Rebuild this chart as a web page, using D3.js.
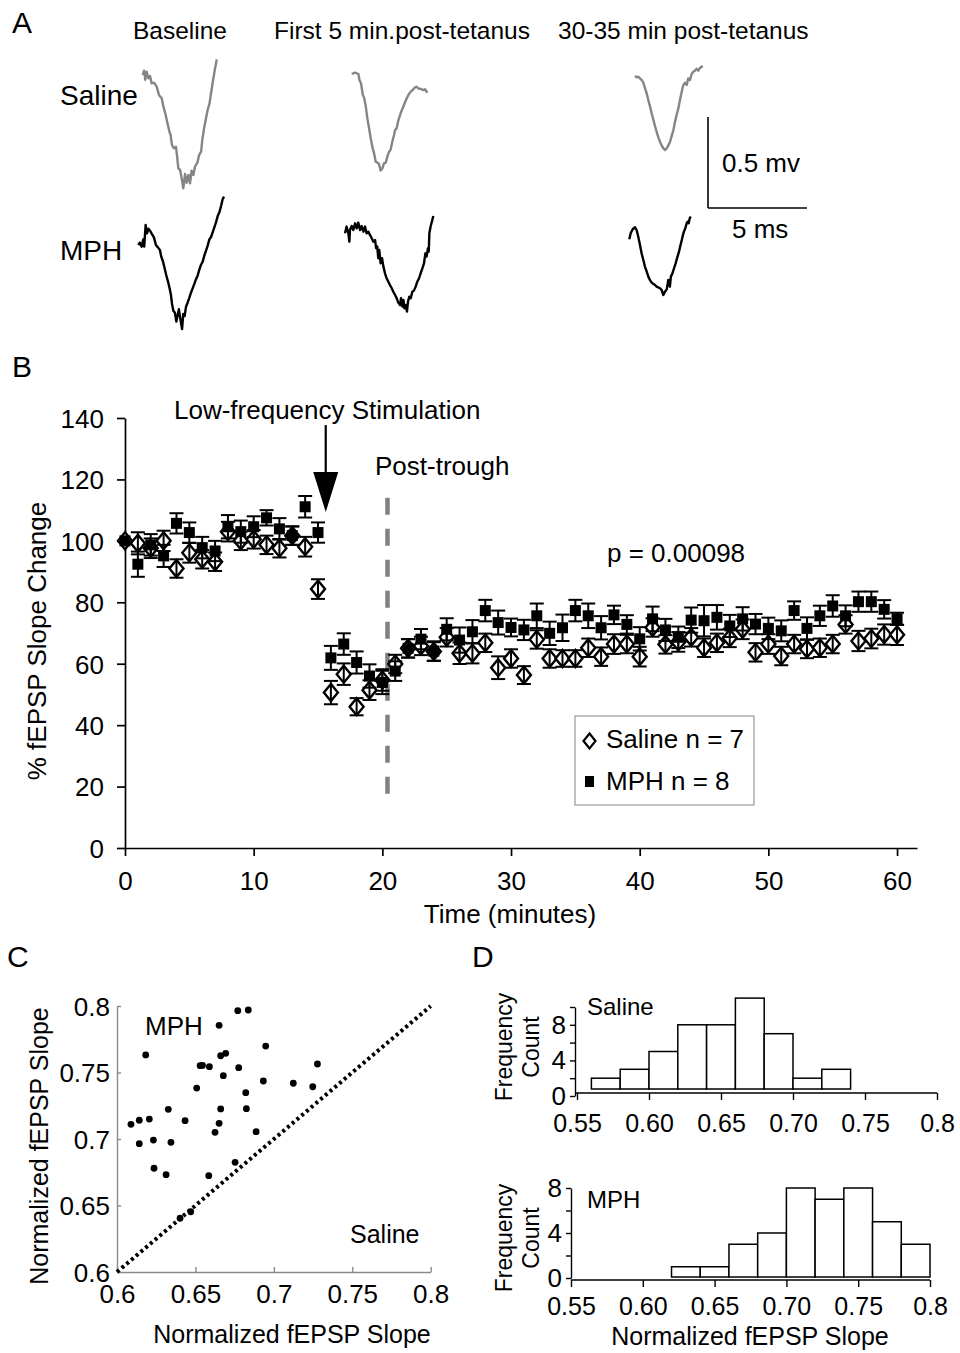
<!DOCTYPE html>
<html><head><meta charset="utf-8">
<script src="https://cdn.jsdelivr.net/npm/d3@7"></script>
<style>
body{margin:0;background:#fff}
svg{display:block}
text{font-family:"Liberation Sans",Arial,Helvetica,sans-serif;fill:#000}
</style>
</head><body>
<svg id="fig" width="960" height="1353"></svg>
<script>
// ---------------- DATA ----------------
// Panel A traces: [time (ms), voltage (mV)] relative to trace start
const salineBaseline = [[0,0],[.07,.024],[.13,-.027],[.20,.018],[.29,-.018],[.37,-.005],[.45,-.046],[.57,-.042],[.71,-.064],[.82,-.11],[.96,-.128],[1.04,-.17],[1.16,-.22],[1.26,-.269],[1.35,-.311],[1.41,-.33],[1.48,-.385],[1.58,-.403],[1.68,-.394],[1.73,-.44],[1.80,-.513],[1.89,-.522],[1.97,-.568],[2.05,-.623],[2.14,-.544],[2.22,-.592],[2.31,-.549],[2.39,-.595],[2.47,-.526],[2.56,-.549],[2.64,-.504],[2.76,-.482],[2.85,-.44],[2.95,-.421],[3.01,-.357],[3.10,-.293],[3.18,-.247],[3.28,-.192],[3.37,-.159],[3.45,-.101],[3.54,-.037],[3.64,.027],[3.74,.086]];
const salineFirst5 = [[0,0],[.17,.007],[.34,0],[.39,-.033],[.47,-.051],[.56,-.115],[.62,-.128],[.71,-.176],[.79,-.244],[.88,-.299],[.96,-.353],[1.04,-.399],[1.13,-.436],[1.21,-.482],[1.30,-.487],[1.38,-.495],[1.46,-.531],[1.55,-.518],[1.63,-.491],[1.72,-.487],[1.80,-.454],[1.89,-.427],[1.97,-.414],[2.05,-.372],[2.14,-.335],[2.19,-.308],[2.27,-.299],[2.36,-.253],[2.47,-.216],[2.61,-.179],[2.74,-.143],[2.86,-.115],[2.98,-.097],[3.08,-.088],[3.20,-.073],[3.28,-.070],[3.38,-.081],[3.48,-.081],[3.59,-.088],[3.70,-.084],[3.82,-.103]];
const saline3035 = [[0,0],[.08,-.007],[.17,-.004],[.25,-.013],[.34,-.022],[.42,-.037],[.51,-.068],[.59,-.095],[.67,-.132],[.76,-.168],[.84,-.205],[.93,-.242],[1.01,-.275],[1.09,-.306],[1.18,-.337],[1.26,-.361],[1.35,-.383],[1.43,-.397],[1.52,-.407],[1.60,-.397],[1.68,-.383],[1.77,-.361],[1.85,-.330],[1.94,-.297],[2.02,-.251],[2.10,-.214],[2.19,-.178],[2.27,-.132],[2.36,-.086],[2.44,-.049],[2.53,-.037],[2.61,-.049],[2.69,-.013],[2.78,-.022],[2.86,.011],[2.95,.024],[3.03,.029],[3.11,.040],[3.20,.029],[3.28,.044],[3.42,.055]];
const mphBaseline = [[0,0],[.08,.013],[.17,-.009],[.25,.031],[.30,-.009],[.37,.110],[.44,.064],[.51,.090],[.59,.079],[.69,.060],[.79,.042],[.89,0],[.99,-.013],[1.09,-.027],[1.16,-.064],[1.25,-.092],[1.33,-.128],[1.41,-.165],[1.50,-.201],[1.58,-.238],[1.65,-.275],[1.70,-.321],[1.77,-.361],[1.85,-.372],[1.92,-.421],[1.99,-.385],[2.05,-.353],[2.12,-.403],[2.21,-.462],[2.27,-.379],[2.34,-.390],[2.41,-.339],[2.49,-.317],[2.58,-.289],[2.66,-.262],[2.74,-.240],[2.83,-.214],[2.91,-.189],[3.00,-.167],[3.08,-.137],[3.16,-.110],[3.25,-.093],[3.33,-.060],[3.42,-.031],[3.50,-.005],[3.59,.031],[3.67,.042],[3.75,.068],[3.84,.097],[3.92,.123],[4.01,.159],[4.09,.178],[4.18,.214],[4.26,.251],[4.33,.266]];
const mphFirst5 = [[0,0],[.08,.037],[.17,0],[.22,-.046],[.25,.018],[.34,.040],[.42,.018],[.51,.055],[.59,.027],[.67,.059],[.76,.018],[.84,.040],[.93,.009],[1.01,.037],[1.09,0],[1.18,.009],[1.26,-.009],[1.35,-.027],[1.43,-.046],[1.52,-.037],[1.57,-.082],[1.63,-.073],[1.68,-.137],[1.73,-.092],[1.80,-.165],[1.87,-.137],[1.94,-.183],[2.02,-.220],[2.10,-.247],[2.19,-.266],[2.27,-.284],[2.36,-.302],[2.44,-.321],[2.53,-.339],[2.61,-.357],[2.69,-.381],[2.78,-.394],[2.83,-.357],[2.90,-.403],[2.95,-.366],[3.00,-.412],[3.06,-.394],[3.13,-.430],[3.18,-.375],[3.25,-.348],[3.32,-.357],[3.40,-.321],[3.48,-.315],[3.57,-.293],[3.65,-.266],[3.74,-.247],[3.82,-.220],[3.91,-.192],[3.99,-.165],[4.06,-.110],[4.12,-.128],[4.19,-.082],[4.23,-.101],[4.26,0],[4.33,.040],[4.41,.073],[4.46,.095]];
const mph3035 = [[0,0],[.07,.033],[.17,.055],[.29,.066],[.37,.051],[.45,.015],[.54,-.031],[.62,-.077],[.71,-.114],[.79,-.150],[.88,-.178],[.96,-.205],[1.04,-.223],[1.13,-.238],[1.21,-.245],[1.30,-.251],[1.38,-.260],[1.46,-.264],[1.55,-.269],[1.63,-.278],[1.72,-.306],[1.80,-.288],[1.89,-.275],[1.97,-.223],[2.05,-.260],[2.10,-.205],[2.17,-.190],[2.26,-.159],[2.34,-.132],[2.42,-.101],[2.51,-.068],[2.56,-.044],[2.61,-.022],[2.66,0],[2.71,.024],[2.76,.042],[2.81,.055],[2.86,.073],[2.91,.092],[2.96,.097],[3.00,.088],[3.05,.115],[3.10,.125]];
const columnTitles = ["Baseline", "First 5 min.post-tetanus", "30-35 min post-tetanus"];
const rowLabels = ["Saline", "MPH"];
const scaleBarMv = 0.5, scaleBarMs = 5;

// Panel B time course
const timeMin = [0,1,2,3,4,5,6,7,8,9,10,11,12,13,14,15,16,17,18,19,20,21,22,23,24,25,26,27,28,29,30,31,32,33,34,35,36,37,38,39,40,41,42,43,44,45,46,47,48,49,50,51,52,53,54,55,56,57,58,59,60];
const salineMean = [100,99.2,97.6,100,91.0,96.1,94.0,93.2,103.0,100,100.5,98.7,97.6,101.7,98.1,84.3,50.6,56.6,46.0,51.4,54.7,59.9,65,65.8,64,68.6,63.4,63.4,66.8,58.7,61.7,56.3,67.9,61.7,61.7,61.7,65.2,62.3,66.4,66.4,62.3,71.8,66.3,67.1,68.6,65.2,66.8,68.4,71.2,63.7,66.4,62.5,66.4,64.8,65.2,66.4,72.8,67.4,68.2,69.5,69.4];
const salineSem = [0,3.6,3.2,3.3,3.0,3.2,3.0,3.0,3.2,3.0,3.0,3.0,3.0,3.0,3.2,3.2,3.8,3.5,2.8,3.2,3.5,3.0,3.0,3.0,3.0,3.0,3.5,3.3,3.0,3.7,3.0,2.9,3.0,3.0,2.7,2.7,3.0,3.0,3.2,3.0,3.2,3.0,3.0,3.2,3.0,3.0,3.0,3.0,3.2,3.0,3.2,3.0,3.0,3.0,3.0,3.0,3.0,3.3,3.2,3.3,3.3];
const mphMean = [100,92.4,98.7,95.1,105.7,102.7,97.8,96.7,104.6,103.0,104.6,107.5,103.9,101.7,111.1,102.7,61.9,66.4,60.4,56.0,53.9,57.6,65.0,68.0,64.1,71.2,67.7,70.4,77.3,73.4,71.8,71.0,75.6,69.9,71.7,77.3,75.6,71.7,75.9,72.8,68.1,74.6,71.0,68.6,74.2,74.0,75.1,72.3,74.6,72.9,71.5,70.7,77.3,71.5,75.6,78.8,75.6,80.2,80.2,77.7,74.6];
const mphSem = [0,4.1,3.5,3.6,3.3,3.3,3.5,3.3,3.8,3.6,3.4,2.5,3.5,3.0,3.5,3.3,3.9,3.5,3.6,3.8,3.8,3.2,3.0,3.3,3.2,3.6,4.1,3.8,3.5,3.9,2.9,3.3,4.0,3.8,4.3,3.5,4.0,3.8,3.0,3.0,3.8,4.0,3.6,3.5,4.1,5.1,4.0,3.6,3.8,3.3,3.5,3.4,3.0,3.6,3.3,3.5,3.4,3.3,3.3,3.0,2.0];
const timeTicks = [0,10,20,30,40,50,60];
const slopeTicks = [0,20,40,60,80,100,120,140];
const stimTime = 15.6, stimArrow = [137.7, 109.4];
const troughTime = 20.4, troughLine = [114, 14];
const legendLabels = ["Saline n = 7", "MPH n = 8"];
const pText = "p = 0.00098";

// Panel C scatter: [saline, MPH]
const scatterPts = [[0.6089,0.711],[0.6142,0.7141],[0.6142,0.6965],[0.6183,0.7632],[0.6206,0.715],[0.6232,0.6992],[0.6236,0.678],[0.6313,0.6732],[0.6327,0.7223],[0.6344,0.6975],[0.6402,0.6404],[0.6434,0.7138],[0.647,0.6453],[0.6508,0.7383],[0.653,0.7551],[0.6545,0.7553],[0.6589,0.7544],[0.6585,0.6724],[0.6625,0.705],[0.6651,0.7855],[0.6651,0.7118],[0.6661,0.7226],[0.6661,0.7626],[0.6678,0.7476],[0.6693,0.7644],[0.6753,0.6825],[0.677,0.7965],[0.6776,0.7536],[0.6821,0.7348],[0.6825,0.7228],[0.6837,0.797],[0.6887,0.7055],[0.6933,0.7436],[0.6948,0.7699],[0.7124,0.7419],[0.7248,0.7393],[0.7278,0.7564]];
const scatterTicks = [0.6,0.65,0.7,0.75,0.8];
const scatterTickLabels = ["0.6","0.65","0.7","0.75","0.8"];

// Panel D histograms
const binWidth = 0.02;
const salineBins = [0.56,0.58,0.60,0.62,0.64,0.66,0.68,0.70,0.72];
const salineCounts = [2,3,5,8,8,11,7,2,3];
const mphBins = [0.62,0.64,0.66,0.68,0.70,0.72,0.74,0.76,0.78];
const mphCounts = [1,1,3,4,8,7,8,5,3];
const histXTicks = [0.55,0.60,0.65,0.70,0.75,0.80];
const histXTickLabels = ["0.55","0.60","0.65","0.70","0.75","0.8"];
const salineYTicks = [0,2,4,6,8,10];
const mphYTicks = [0,2,4,6,8];
const histYLabeled = [0,4,8];

// ---------------- DRAWING ----------------
const svg = d3.select("#fig");
const FONT = '"Liberation Sans",Arial,Helvetica,sans-serif';
function txt(g, s, x, y, size, anchor, rot) {
  const t = g.append("text").text(s).attr("font-size", size).attr("text-anchor", anchor || "start");
  if (rot) t.attr("transform", `translate(${x},${y}) rotate(${rot})`);
  else t.attr("x", x).attr("y", y);
  return t;
}

// ===== Panel A =====
const gA = svg.append("g");
txt(gA, "A", 12, 33, 30);
const colX = [133, 274, 558];
columnTitles.forEach((c, i) => txt(gA, c, colX[i], 39, 24.5));
txt(gA, rowLabels[0], 60, 105, 28);
txt(gA, rowLabels[1], 60, 260, 28);

const msPx = d3.scaleLinear().domain([0, 1]).range([0, 19.8]);
const mvPx = d3.scaleLinear().domain([0, 1]).range([0, -182]);
const traceLine = d3.line().x(d => msPx(d[0])).y(d => mvPx(d[1]));
const traceDefs = [
  {d: salineBaseline, x: 142.7, y: 75, c: "#858585"},
  {d: salineFirst5, x: 351.7, y: 74, c: "#858585"},
  {d: saline3035, x: 635, y: 76, c: "#858585"},
  {d: mphBaseline, x: 138.3, y: 245, c: "#000"},
  {d: mphFirst5, x: 345, y: 233.3, c: "#000"},
  {d: mph3035, x: 629.3, y: 239.3, c: "#000"}
];
traceDefs.forEach(t => {
  gA.append("path").datum(t.d).attr("transform", `translate(${t.x},${t.y})`)
    .attr("d", traceLine).attr("fill", "none").attr("stroke", t.c)
    .attr("stroke-width", 2.4).attr("stroke-linejoin", "round");
});
// scale bar
const sb = gA.append("g").attr("transform", "translate(708,208)");
sb.append("line").attr("x1", 0).attr("x2", 0).attr("y1", mvPx(0)).attr("y2", mvPx(scaleBarMv)).attr("stroke", "#000").attr("stroke-width", 1.6);
sb.append("line").attr("x1", msPx(0)).attr("x2", msPx(scaleBarMs)).attr("y1", 0).attr("y2", 0).attr("stroke", "#000").attr("stroke-width", 1.6);
txt(gA, scaleBarMv + " mv", 722, 172, 26);
txt(gA, scaleBarMs + " ms", 732, 238, 26);

// ===== Panel B =====
const gB = svg.append("g");
txt(gB, "B", 12, 377, 30);
const xB = d3.scaleLinear().domain([0, 61.55]).range([125, 917]);
const yB = d3.scaleLinear().domain([0, 140]).range([848, 418]);

const axB = gB.append("g").attr("transform", "translate(0,848)")
  .call(d3.axisBottom(xB).tickValues(timeTicks).tickSize(8).tickSizeOuter(0));
axB.selectAll("text").attr("y", 42).attr("dy", 0).attr("font-size", 26).attr("font-family", FONT);
const ayB = gB.append("g").attr("transform", "translate(125,0)")
  .call(d3.axisLeft(yB).tickValues(slopeTicks).tickSize(8).tickPadding(13).tickSizeOuter(0));
ayB.selectAll("text").attr("font-size", 26).attr("dy", "0.36em").attr("font-family", FONT);
[axB, ayB].forEach(a => { a.selectAll("path,line").attr("stroke", "#000").attr("stroke-width", 1.7); });

txt(gB, "% fEPSP Slope Change", 46, 641, 26, "middle", -90);
txt(gB, "Time (minutes)", 510, 923, 26, "middle");

// dashed post-trough line
gB.append("line").attr("x1", xB(troughTime)).attr("x2", xB(troughTime))
  .attr("y1", yB(troughLine[0])).attr("y2", yB(troughLine[1]))
  .attr("stroke", "#808080").attr("stroke-width", 4.5).attr("stroke-dasharray", "17,14");

// stimulation arrow
const ax = xB(stimTime);
gB.append("line").attr("x1", ax).attr("x2", ax).attr("y1", yB(stimArrow[0])).attr("y2", yB(stimArrow[1]) - 30)
  .attr("stroke", "#000").attr("stroke-width", 2.2);
gB.append("path").attr("d", `M${ax - 12.5},${yB(stimArrow[1]) - 40} L${ax + 12.5},${yB(stimArrow[1]) - 40} L${ax},${yB(stimArrow[1])} Z`)
  .attr("fill", "#000");

txt(gB, "Low-frequency Stimulation", 174, 419, 26);
txt(gB, "Post-trough", 375, 475, 26);
txt(gB, pText, 607, 562, 26);

const salineData = timeMin.map((t, i) => ({t, m: salineMean[i], e: salineSem[i]}));
const mphData = timeMin.map((t, i) => ({t, m: mphMean[i], e: mphSem[i]}));
const diamond = "M0,-8.5 L7,0 L0,8.5 L-7,0 Z";

gB.append("g").selectAll("path").data(salineData).join("path")
  .attr("d", diamond).attr("transform", d => `translate(${xB(d.t)},${yB(d.m)})`)
  .attr("fill", "#fff").attr("stroke", "#000").attr("stroke-width", 2.4);
gB.append("g").selectAll("rect").data(mphData).join("rect")
  .attr("x", d => xB(d.t) - 5.5).attr("y", d => yB(d.m) - 5.5).attr("width", 11).attr("height", 11)
  .attr("fill", "#000");

function errBars(data) {
  const g = gB.append("g").attr("stroke", "#000").attr("stroke-width", 2);
  data.filter(d => d.e > 0).forEach(d => {
    const x = xB(d.t), y1 = yB(d.m - d.e), y2 = yB(d.m + d.e);
    g.append("line").attr("x1", x).attr("x2", x).attr("y1", y1).attr("y2", y2);
    g.append("line").attr("x1", x - 7).attr("x2", x + 7).attr("y1", y1).attr("y2", y1);
    g.append("line").attr("x1", x - 7).attr("x2", x + 7).attr("y1", y2).attr("y2", y2);
  });
}
errBars(salineData);
errBars(mphData);

// legend
const lg = gB.append("g");
lg.append("rect").attr("x", 575).attr("y", 716).attr("width", 179).attr("height", 89)
  .attr("fill", "#fff").attr("stroke", "#999").attr("stroke-width", 1.2);
lg.append("path").attr("d", "M0,-7.5 L6,0 L0,7.5 L-6,0 Z").attr("transform", "translate(589.5,741)")
  .attr("fill", "#fff").attr("stroke", "#000").attr("stroke-width", 2.2);
lg.append("rect").attr("x", 585).attr("y", 776).attr("width", 9).attr("height", 11).attr("fill", "#000");
txt(lg, legendLabels[0], 606, 748, 26);
txt(lg, legendLabels[1], 606, 790, 26);

// ===== Panel C =====
const gC = svg.append("g");
txt(gC, "C", 7, 967, 30);
const xC = d3.scaleLinear().domain([0.6, 0.8]).range([117, 430.7]);
const yC = d3.scaleLinear().domain([0.6, 0.8]).range([1272, 1006]);
const axC = gC.append("g").attr("transform", "translate(0,1272)")
  .call(d3.axisBottom(xC).tickValues(scatterTicks).tickFormat((d, i) => scatterTickLabels[i]).tickSize(-5).tickSizeOuter(0));
axC.selectAll("text").attr("y", 31).attr("dy", 0).attr("font-size", 26).attr("font-family", FONT);
const ayC = gC.append("g").attr("transform", "translate(117,0)")
  .call(d3.axisLeft(yC).tickValues(scatterTicks).tickFormat((d, i) => scatterTickLabels[i]).tickSize(-4).tickSizeOuter(0));
ayC.selectAll("text").attr("x", -7).attr("dy", "0.36em").attr("font-size", 26).attr("font-family", FONT);
[axC, ayC].forEach(a => a.selectAll("path,line").attr("stroke", "#8a8a8a").attr("stroke-width", 1.4));

gC.append("line").attr("x1", xC(0.6)).attr("y1", yC(0.6)).attr("x2", xC(0.8)).attr("y2", yC(0.8))
  .attr("stroke", "#000").attr("stroke-width", 4).attr("stroke-dasharray", "3,3.2");
gC.append("g").selectAll("circle").data(scatterPts).join("circle")
  .attr("cx", d => xC(d[0])).attr("cy", d => yC(d[1])).attr("r", 3.4).attr("fill", "#000");
txt(gC, "MPH", 145, 1035, 26);
txt(gC, "Saline", 350, 1243, 25);
txt(gC, "Normalized fEPSP Slope", 48, 1146, 25, "middle", -90);
txt(gC, "Normalized fEPSP Slope", 292, 1343, 25, "middle");

// ===== Panel D =====
const gD = svg.append("g");
txt(gD, "D", 472, 967, 30);

function histogram(opts) {
  const g = gD.append("g");
  const x = d3.scaleLinear().domain([0.55, 0.8]).range(opts.xr);
  const y = d3.scaleLinear().domain([0, opts.ymax]).range(opts.yr);
  g.selectAll("rect").data(opts.bins.map((b, i) => ({b, c: opts.counts[i]}))).join("rect")
    .attr("x", d => x(d.b)).attr("width", d => x(d.b + binWidth) - x(d.b))
    .attr("y", d => y(d.c)).attr("height", d => opts.barBase - y(d.c))
    .attr("fill", "#fff").attr("stroke", "#000").attr("stroke-width", 1.5);
  const axx = g.append("g").attr("transform", `translate(0,${opts.xAxisY})`)
    .call(d3.axisBottom(x).tickValues(histXTicks).tickFormat((d, i) => histXTickLabels[i]).tickSize(7).tickSizeOuter(0));
  axx.select(".domain").attr("d", `M${opts.yAxisX},0H${x(0.8)}`);
  axx.selectAll("text").attr("y", opts.xLabelDy).attr("dy", 0).attr("font-size", 25).attr("font-family", FONT);
  const axy = g.append("g").attr("transform", `translate(${opts.yAxisX},0)`)
    .call(d3.axisLeft(y).tickValues(opts.yTicks).tickFormat(d => histYLabeled.includes(d) ? d : "").tickSize(5).tickPadding(4).tickSizeOuter(0));
  axy.selectAll("text").attr("font-size", 26).attr("dy", "0.33em").attr("font-family", FONT);
  [axx, axy].forEach(a => a.selectAll("path,line").attr("stroke", "#000").attr("stroke-width", 1.4));
  txt(g, opts.label, 587, opts.labelY, 24);
  txt(g, "Frequency", 512, opts.cy, 23, "middle", -90);
  txt(g, "Count", 539, opts.cy, 23, "middle", -90);
}
histogram({bins: salineBins, counts: salineCounts, xr: [577, 937], yr: [1096, 1007], ymax: 10,
  barBase: 1089, xAxisY: 1093, yAxisX: 575, xLabelDy: 39, yTicks: salineYTicks, label: "Saline", labelY: 1015, cy: 1047});
histogram({bins: mphBins, counts: mphCounts, xr: [571, 930], yr: [1278, 1188], ymax: 8,
  barBase: 1277, xAxisY: 1280, yAxisX: 571, xLabelDy: 35, yTicks: mphYTicks, label: "MPH", labelY: 1208, cy: 1238});
txt(gD, "Normalized fEPSP Slope", 750, 1345, 25, "middle");
</script>
</body></html>
